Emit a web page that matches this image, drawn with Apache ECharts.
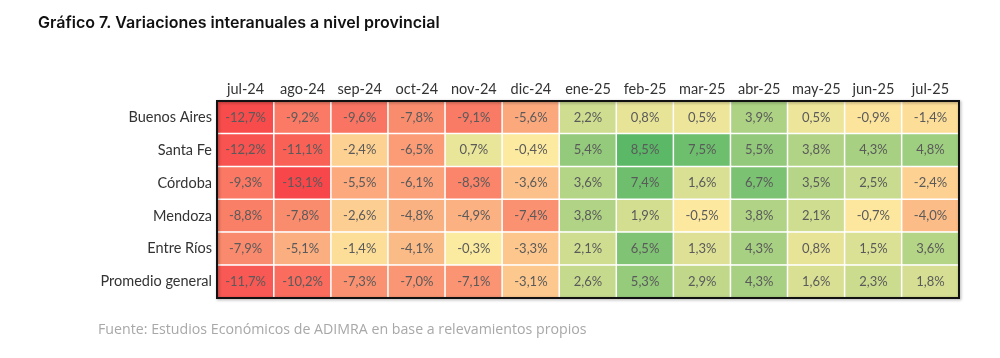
<!DOCTYPE html>
<html><head><meta charset="utf-8">
<script src="https://cdn.jsdelivr.net/npm/echarts@6/dist/echarts.min.js"></script>
<style>html,body{margin:0;padding:0;background:#fff}#c{width:1000px;height:358px}</style>
</head><body><div id="c"></div>
<script>
const months = ['jul-24','ago-24','sep-24','oct-24','nov-24','dic-24','ene-25','feb-25','mar-25','abr-25','may-25','jun-25','jul-25'];
const provinces = ['Buenos Aires','Santa Fe','Córdoba','Mendoza','Entre Ríos','Promedio general'];
const buenosAires = [-12.7,-9.2,-9.6,-7.8,-9.1,-5.6,2.2,0.8,0.5,3.9,0.5,-0.9,-1.4];
const santaFe     = [-12.2,-11.1,-2.4,-6.5,0.7,-0.4,5.4,8.5,7.5,5.5,3.8,4.3,4.8];
const cordoba     = [-9.3,-13.1,-5.5,-6.1,-8.3,-3.6,3.6,7.4,1.6,6.7,3.5,2.5,-2.4];
const mendoza     = [-8.8,-7.8,-2.6,-4.8,-4.9,-7.4,3.8,1.9,-0.5,3.8,2.1,-0.7,-4.0];
const entreRios   = [-7.9,-5.1,-1.4,-4.1,-0.3,-3.3,2.1,6.5,1.3,4.3,0.8,1.5,3.6];
const promedio    = [-11.7,-10.2,-7.3,-7.0,-7.1,-3.1,2.6,5.3,2.9,4.3,1.6,2.3,1.8];
const rows = [buenosAires, santaFe, cordoba, mendoza, entreRios, promedio];

const data = [];
rows.forEach((r, yi) => r.forEach((v, xi) => data.push([xi, yi, v])));
const vmin = -13.1, vmax = 8.5, vmid = -0.4;

// build colour stops so that the yellow midpoint sits at vmid
const RED = [248,71,74], YEL = [253,235,160], GRN = [91,184,103];
const N = 44, stops = [];
for (let i = 0; i <= N; i++) {
  const v = vmin + (vmax - vmin) * i / N;
  let a, b, t;
  if (v <= vmid) { a = RED; b = YEL; t = (v - vmin) / (vmid - vmin); }
  else { a = YEL; b = GRN; t = (v - vmid) / (vmax - vmid); }
  const c = a.map((x, k) => Math.round(x + (b[k] - x) * t));
  stops.push('rgb(' + c.join(',') + ')');
}

const chart = echarts.init(document.getElementById('c'));
chart.setOption({
  backgroundColor: '#fff',
  animation: false,
  title: [{
    text: 'Gráfico 7. Variaciones interanuales a nivel provincial',
    left: 33, top: 10,
    textStyle: {fontFamily: 'Inter', fontWeight: 600, fontSize: 16, color: '#111'}
  }, {
    text: 'Fuente: Estudios Económicos de ADIMRA en base a relevamientos propios',
    left: 93, top: 318,
    textStyle: {fontFamily: 'Open Sans', fontWeight: 'normal', fontSize: 14.2, color: '#a8a8a8'}
  }],
  grid: {left: 217, right: 41, top: 101, bottom: 60, show: true, z: 10,
    borderColor: '#111', borderWidth: 2, backgroundColor: 'transparent',
    shadowColor: 'rgba(0,0,0,0.35)', shadowBlur: 3, shadowOffsetX: 1, shadowOffsetY: 1},
  xAxis: {type: 'category', data: months, position: 'top',
    axisLine: {show: false}, axisTick: {show: false}, splitLine: {show: false},
    axisLabel: {interval: 0, fontFamily: 'Lato', fontSize: 14.5, color: '#333', margin: 4}},
  yAxis: {type: 'category', data: provinces, inverse: true,
    axisLine: {show: false}, axisTick: {show: false}, splitLine: {show: false},
    axisLabel: {interval: 0, fontFamily: 'Lato', fontSize: 14.5, color: '#333', margin: 5}},
  visualMap: {show: false, type: 'continuous', min: vmin, max: vmax, dimension: 2,
    inRange: {color: stops}},
  series: [{
    type: 'heatmap', data: data,
    itemStyle: {borderColor: '#fff', borderWidth: 1.5},
    label: {show: true, fontFamily: 'Lato', fontSize: 13, color: '#5a5a5a',
      formatter: p => p.value[2].toFixed(1).replace('.', ',') + '%'},
    emphasis: {disabled: true}
  }]
});
</script></body></html>
